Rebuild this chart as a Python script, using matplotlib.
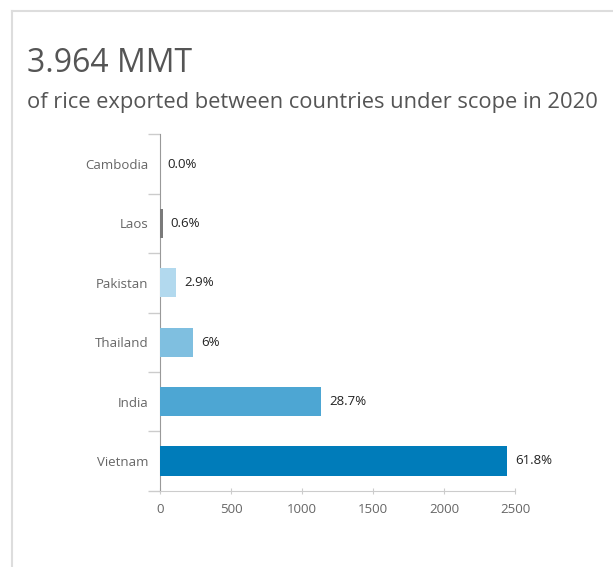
import matplotlib
matplotlib.use('Agg')
import matplotlib.pyplot as plt
from matplotlib.lines import Line2D

# rice exports 2020, thousand tonnes
countries = ['Vietnam', 'India', 'Thailand', 'Pakistan', 'Laos', 'Cambodia']
exports = [2445, 1135, 232, 113, 18, 0]
shares = ['61.8%', '28.7%', '6%', '2.9%', '0.6%', '0.0%']
colors = ['#007cba', '#4da6d3', '#7fbfe0', '#b2d9ee', '#7a7a7a', '#e6f2f8']
xticks = [0, 500, 1000, 1500, 2000, 2500]

plt.rcParams['font.family'] = ['Open Sans', 'DejaVu Sans']

fig = plt.figure(figsize=(6.13, 5.67), dpi=100)
ax = fig.add_axes([160 / 613, 1 - 490.7 / 567, 355 / 613, 356.4 / 567])

ypos = list(range(len(countries)))
ax.barh(ypos, exports, height=0.49, color=colors, edgecolor='none', zorder=3)
for y, v, s in zip(ypos, exports, shares):
    ax.text(v + 55, y, s, va='center', ha='left', fontsize=9.5, color='#222222')

ax.set_xlim(0, 2500)
ax.set_ylim(-0.5, 5.5)
ax.set_yticks(ypos)
ax.set_yticklabels(countries, fontsize=9.5, color='#666666')
ax.set_yticks([i - 0.5 for i in range(len(countries) + 1)], minor=True)
ax.tick_params(axis='y', which='major', length=0, pad=8.5)
ax.tick_params(axis='y', which='minor', length=9, color='#cccccc', width=1)
ax.set_xticks(xticks)
ax.set_xticklabels([str(t) for t in xticks], fontsize=9.5, color='#666666')
ax.tick_params(axis='x', length=4, direction='inout', color='#cccccc', pad=7)

for side in ['top', 'right']:
    ax.spines[side].set_visible(False)
ax.spines['left'].set_color('#999999')
ax.spines['bottom'].set_color('#cccccc')

# card border
fig.add_artist(Line2D([12 / 613, 12 / 613], [0, 1 - 11 / 567], color='#dddddd', lw=1.5))
fig.add_artist(Line2D([12 / 613, 1], [1 - 11 / 567, 1 - 11 / 567], color='#dddddd', lw=1.5))

fig.text(27 / 613, 1 - 72 / 567, '3.964 MMT', fontsize=23, color='#555555', va='baseline')
fig.text(27 / 613, 1 - 108 / 567, 'of rice exported between countries under scope in 2020',
         fontsize=15.75, color='#555555', va='baseline')

fig.savefig('out.png', dpi=100)
